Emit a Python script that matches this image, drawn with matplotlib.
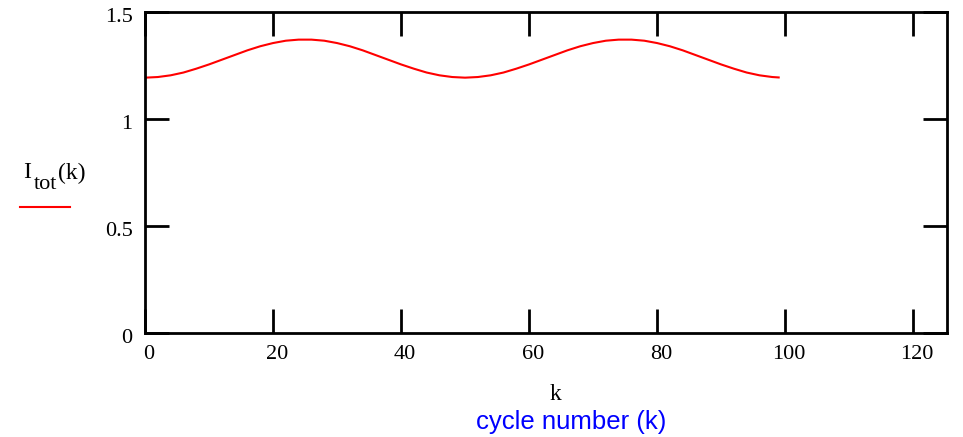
import numpy as np
import matplotlib
matplotlib.use("Agg")
import matplotlib.pyplot as plt
from matplotlib.lines import Line2D
from matplotlib.transforms import ScaledTranslation

# ── Data ───────────────────────────────────────────────────────────────────────
k_values = [0, 2, 4, 6, 8, 10, 12, 14, 16, 18, 20, 22, 24, 26, 28, 30, 32, 34,
            36, 38, 40, 42, 44, 46, 48, 50, 52, 54, 56, 58, 60, 62, 64, 66, 68,
            70, 72, 74, 76, 78, 80, 82, 84, 86, 88, 90, 92, 94, 96, 98, 99]
i_tot = [1.195, 1.198, 1.206, 1.219, 1.237, 1.257, 1.279, 1.301, 1.323, 1.342,
         1.357, 1.368, 1.373, 1.373, 1.368, 1.357, 1.342, 1.323, 1.301, 1.279,
         1.257, 1.237, 1.219, 1.206, 1.198, 1.195, 1.198, 1.206, 1.219, 1.237,
         1.257, 1.279, 1.301, 1.323, 1.342, 1.357, 1.368, 1.373, 1.373, 1.368,
         1.357, 1.342, 1.323, 1.301, 1.279, 1.257, 1.237, 1.219, 1.206, 1.198,
         1.196]

x_ticks = [0, 20, 40, 60, 80, 100, 120]
y_ticks = [0, 0.5, 1, 1.5]
y_tick_labels = ["0", "0.5", "1", "1.5"]

W, H = 963, 437
SERIF = "Liberation Serif"


def px(x, y):
    """pixel position (from top-left) -> figure fraction"""
    return x / W, 1 - y / H


fig = plt.figure(figsize=(W / 100, H / 100), dpi=100)
ax = fig.add_axes([0.1506, 0.238, 0.8328, 0.7334])

ax.plot(k_values, i_tot, color="red", lw=1.5)

ax.set_xlim(0, 125.3)
ax.set_ylim(0, 1.5)
ax.set_xticks(x_ticks)
ax.set_yticks(y_ticks)
ax.set_yticklabels(y_tick_labels)

for side in ax.spines.values():
    side.set_linewidth(2)
ax.tick_params(direction="in", length=17, width=2, top=True, right=True,
               labelsize=16, pad=9)

# Mathcad puts tick labels a little right / below the tick
dx = ScaledTranslation(4 / 100, 0, fig.dpi_scale_trans)
dy = ScaledTranslation(0, -3 / 100, fig.dpi_scale_trans)
for lab in ax.get_xticklabels():
    lab.set_fontfamily(SERIF)
    lab.set_transform(lab.get_transform() + dx)
for lab in ax.get_yticklabels():
    lab.set_fontfamily(SERIF)
    lab.set_transform(lab.get_transform() + dy)

# y label  I_tot(k)  with the legend line under it
fig.text(*px(23, 178), "I", fontsize=17, family=SERIF, ha="left", va="baseline")
fig.text(*px(34, 189), "tot", fontsize=16, family=SERIF, ha="left", va="baseline")
fig.text(*px(58, 179), "(k)", fontsize=17, family=SERIF, ha="left", va="baseline")
x0, y0 = px(20, 207)
x1, _ = px(70, 207)
fig.add_artist(Line2D([x0, x1], [y0, y0], color="red", lw=1.5,
                      transform=fig.transFigure))

# x labels
fig.text(*px(555, 394), "k", fontsize=17, family=SERIF, ha="center", va="center")
fig.text(*px(571, 422), "cycle number (k)", fontsize=18.5,
         family="Liberation Sans", color="#0000ff", ha="center", va="center")

fig.savefig("out.png", dpi=100)
